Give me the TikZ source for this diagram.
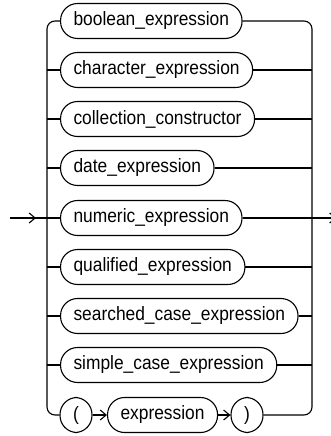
\documentclass[tikz,border=0pt]{standalone}
\usepackage{fontspec}
\setmainfont{Liberation Sans}[FakeStretch=0.9]
\usetikzlibrary{arrows.meta}
\tikzset{
  term/.style={draw, line width=1.1pt, rounded corners=17pt, minimum height=35pt,
    inner xsep=13pt, inner ysep=0pt, anchor=west,
    font=\fontsize{19.3}{22}\selectfont},
  sym/.style={term, minimum width=32pt, inner xsep=0pt, anchor=center},
  rail/.style={line width=1.1pt, rounded corners=8pt},
  tip/.style={line width=1.1pt, -{Straight Barb[length=6pt,width=10pt]}}
}
\begin{document}
\begin{tikzpicture}[x=1pt,y=-1pt]
\useasboundingbox (0,0) rectangle (331,436);
\coordinate (entry) at (10,218);
\coordinate (entrytip) at (36,218);
\coordinate (exit) at (336.5,218);
\coordinate (lrail) at (47,300);
\coordinate (rrail) at (312,300);
\node[term] (bool) at (60,21) {boolean\_expression};
\node[term] (char) at (60,70) {character\_expression};
\node[term] (coll) at (60,119) {collection\_constructor};
\node[term] (date) at (60,168) {date\_expression};
\node[term] (num) at (60,218) {numeric\_expression};
\node[term] (qual) at (60,267) {qualified\_expression};
\node[term] (srch) at (60,316) {searched\_case\_expression};
\node[term] (simp) at (60,365) {simple\_case\_expression};
\node[sym] (lpar) at (76,415) {(};
\node[term] (expr) at (107,415) {expression};
\node[sym] (rpar) at (247,415) {)};
% rails
\draw[rail] (bool.west) -| (lrail) |- (lpar.west);
\draw[rail] (bool.east) -| (rrail) |- (rpar.east);
\draw[rail] (char.west -| lrail) -- (char.west) (char.east) -- (char.east -| rrail);
\draw[rail] (coll.west -| lrail) -- (coll.west) (coll.east) -- (coll.east -| rrail);
\draw[rail] (date.west -| lrail) -- (date.west) (date.east) -- (date.east -| rrail);
\draw[rail] (qual.west -| lrail) -- (qual.west) (qual.east) -- (qual.east -| rrail);
\draw[rail] (srch.west -| lrail) -- (srch.west) (srch.east) -- (srch.east -| rrail);
\draw[rail] (simp.west -| lrail) -- (simp.west) (simp.east) -- (simp.east -| rrail);
% in and out
\draw[tip] (entry) -- (entrytip);
\draw[rail] (entry) -- (num.west);
\draw[tip] (num.east) -- (exit);
\draw[tip] (lpar.east) -- (expr.west);
\draw[tip] (expr.east) -- (rpar.west);
\end{tikzpicture}
\end{document}
